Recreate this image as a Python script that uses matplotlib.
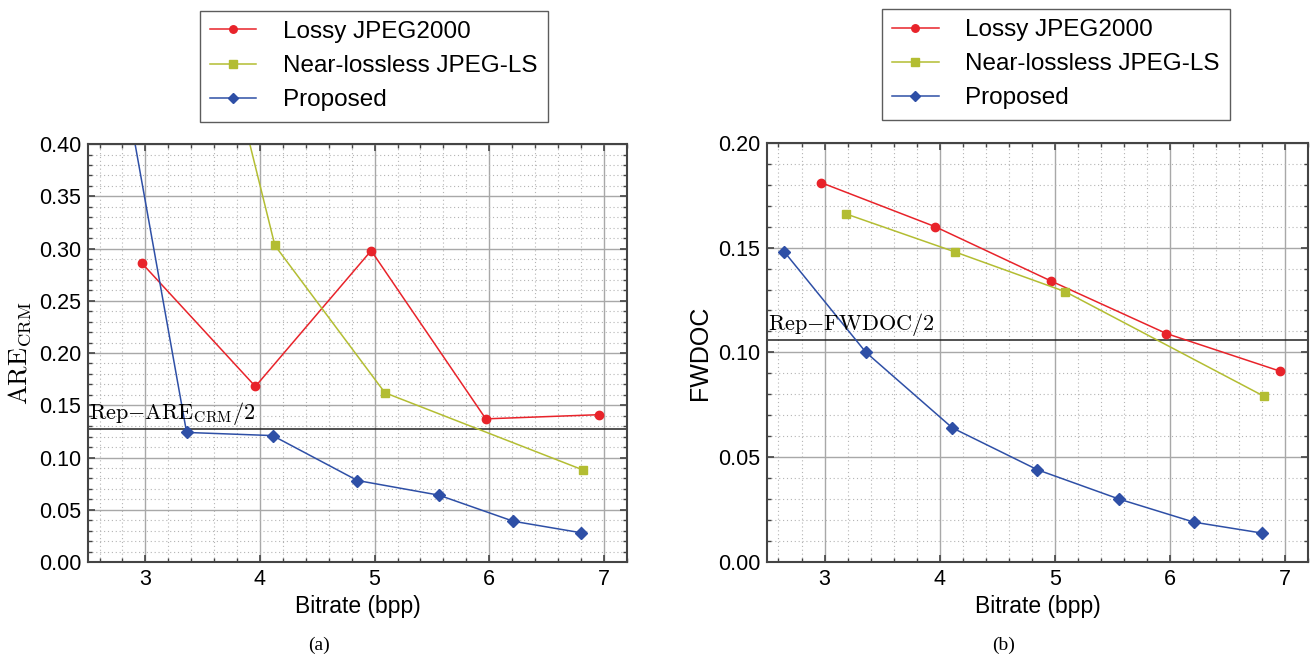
import matplotlib
matplotlib.use("Agg")
import matplotlib.pyplot as plt
from matplotlib.ticker import MultipleLocator

plt.rcParams['font.family'] = ['Liberation Sans', 'DejaVu Sans']
plt.rcParams['mathtext.fontset'] = 'cm'

# bitrates (bpp)
jp2_rate = [2.97, 3.96, 4.97, 5.97, 6.96]
jls_rate = [3.19, 4.13, 5.09, 6.82]
prop_rate = [2.65, 3.36, 4.11, 4.85, 5.56, 6.21, 6.80]

# (a) ARE_CRM
jp2_are = [0.286, 0.168, 0.298, 0.137, 0.141]
jls_are = [0.72, 0.303, 0.162, 0.088]
prop_are = [0.56, 0.124, 0.121, 0.078, 0.064, 0.039, 0.028]
rep_are = 0.127

# (b) FWDOC
jp2_fw = [0.181, 0.160, 0.134, 0.109, 0.091]
jls_fw = [0.166, 0.148, 0.129, 0.079]
prop_fw = [0.148, 0.100, 0.064, 0.044, 0.030, 0.019, 0.0138]
rep_fw = 0.106

labels = ['Lossy JPEG2000', 'Near-lossless JPEG-LS', 'Proposed']
red = '#e8232a'
yel = '#b3bd32'
blue = '#2e4fa6'

fig = plt.figure(figsize=(13.14, 6.55), dpi=100)
ax1 = fig.add_axes([0.067, 0.142, 0.410, 0.638])
ax2 = fig.add_axes([0.5837, 0.142, 0.4117, 0.640])


def draw(ax, ys, rep, ymax, replabel, ylabel, ylsize):
    a = ax.plot(jp2_rate, ys[0], '-o', color=red, ms=6, lw=1.1, label=labels[0])
    b = ax.plot(jls_rate, ys[1], '-s', color=yel, ms=6, lw=1.1, label=labels[1])
    c = ax.plot(prop_rate, ys[2], '-D', color=blue, ms=6, lw=1.1, label=labels[2])
    ax.axhline(rep, color='#222222', lw=1.1, zorder=1.5)
    ax.text(2.51, rep + ymax * 0.005, replabel, fontsize=16, ha='left', va='bottom')
    ax.set_xlim(2.5, 7.2)
    ax.set_ylim(0, ymax)
    ax.xaxis.set_major_locator(MultipleLocator(1))
    ax.xaxis.set_minor_locator(MultipleLocator(0.2))
    ax.yaxis.set_major_locator(MultipleLocator(0.05))
    ax.yaxis.set_minor_locator(MultipleLocator(0.01))
    ax.yaxis.set_major_formatter(lambda v, p: f'{v:.2f}')
    ax.grid(which='major', color='#a8a8a8', lw=1.0, ls='-')
    ax.grid(which='minor', color='#b4b4b4', lw=0.8, ls=(0, (1, 2.5)))
    ax.set_axisbelow(True)
    ax.tick_params(which='both', direction='in', top=True, right=True,
                   color='#444444', labelsize=15.5)
    ax.tick_params(which='major', length=5, width=1.2, pad=5)
    ax.tick_params(which='minor', length=3, width=1.0)
    for s in ax.spines.values():
        s.set_color('#444444')
        s.set_linewidth(1.5)
    ax.set_xlabel('Bitrate (bpp)', fontsize=16.5, labelpad=4)
    ax.set_ylabel(ylabel, fontsize=ylsize, labelpad=4)
    return a + b + c


h1 = draw(ax1, [jp2_are, jls_are, prop_are], rep_are, 0.40,
          r'$\mathrm{Rep}{-}\mathrm{ARE}_{\mathrm{CRM}}/2$',
          r'$\mathrm{ARE}_{\mathrm{CRM}}$', 19)
h2 = draw(ax2, [jp2_fw, jls_fw, prop_fw], rep_fw, 0.20,
          r'$\mathrm{Rep}{-}\mathrm{FWDOC}/2$', 'FWDOC', 18)

for h, cx, cy in [(h1, 0.2846, 0.899), (h2, 0.8037, 0.902)]:
    leg = fig.legend(handles=h, loc='center', bbox_to_anchor=(cx, cy),
                     fontsize=17.5, frameon=True, fancybox=False,
                     borderpad=0.42, labelspacing=0.5, handlelength=1.9,
                     handletextpad=1.1, borderaxespad=0, markerscale=0.9)
    leg.get_frame().set_edgecolor('#333333')
    leg.get_frame().set_linewidth(1.0)

fig.text(0.2425, 0.015, '(a)', family='Liberation Serif', fontsize=14,
         ha='center', va='center')
fig.text(0.7635, 0.015, '(b)', family='Liberation Serif', fontsize=14,
         ha='center', va='center')

fig.savefig('out.png', dpi=100)
